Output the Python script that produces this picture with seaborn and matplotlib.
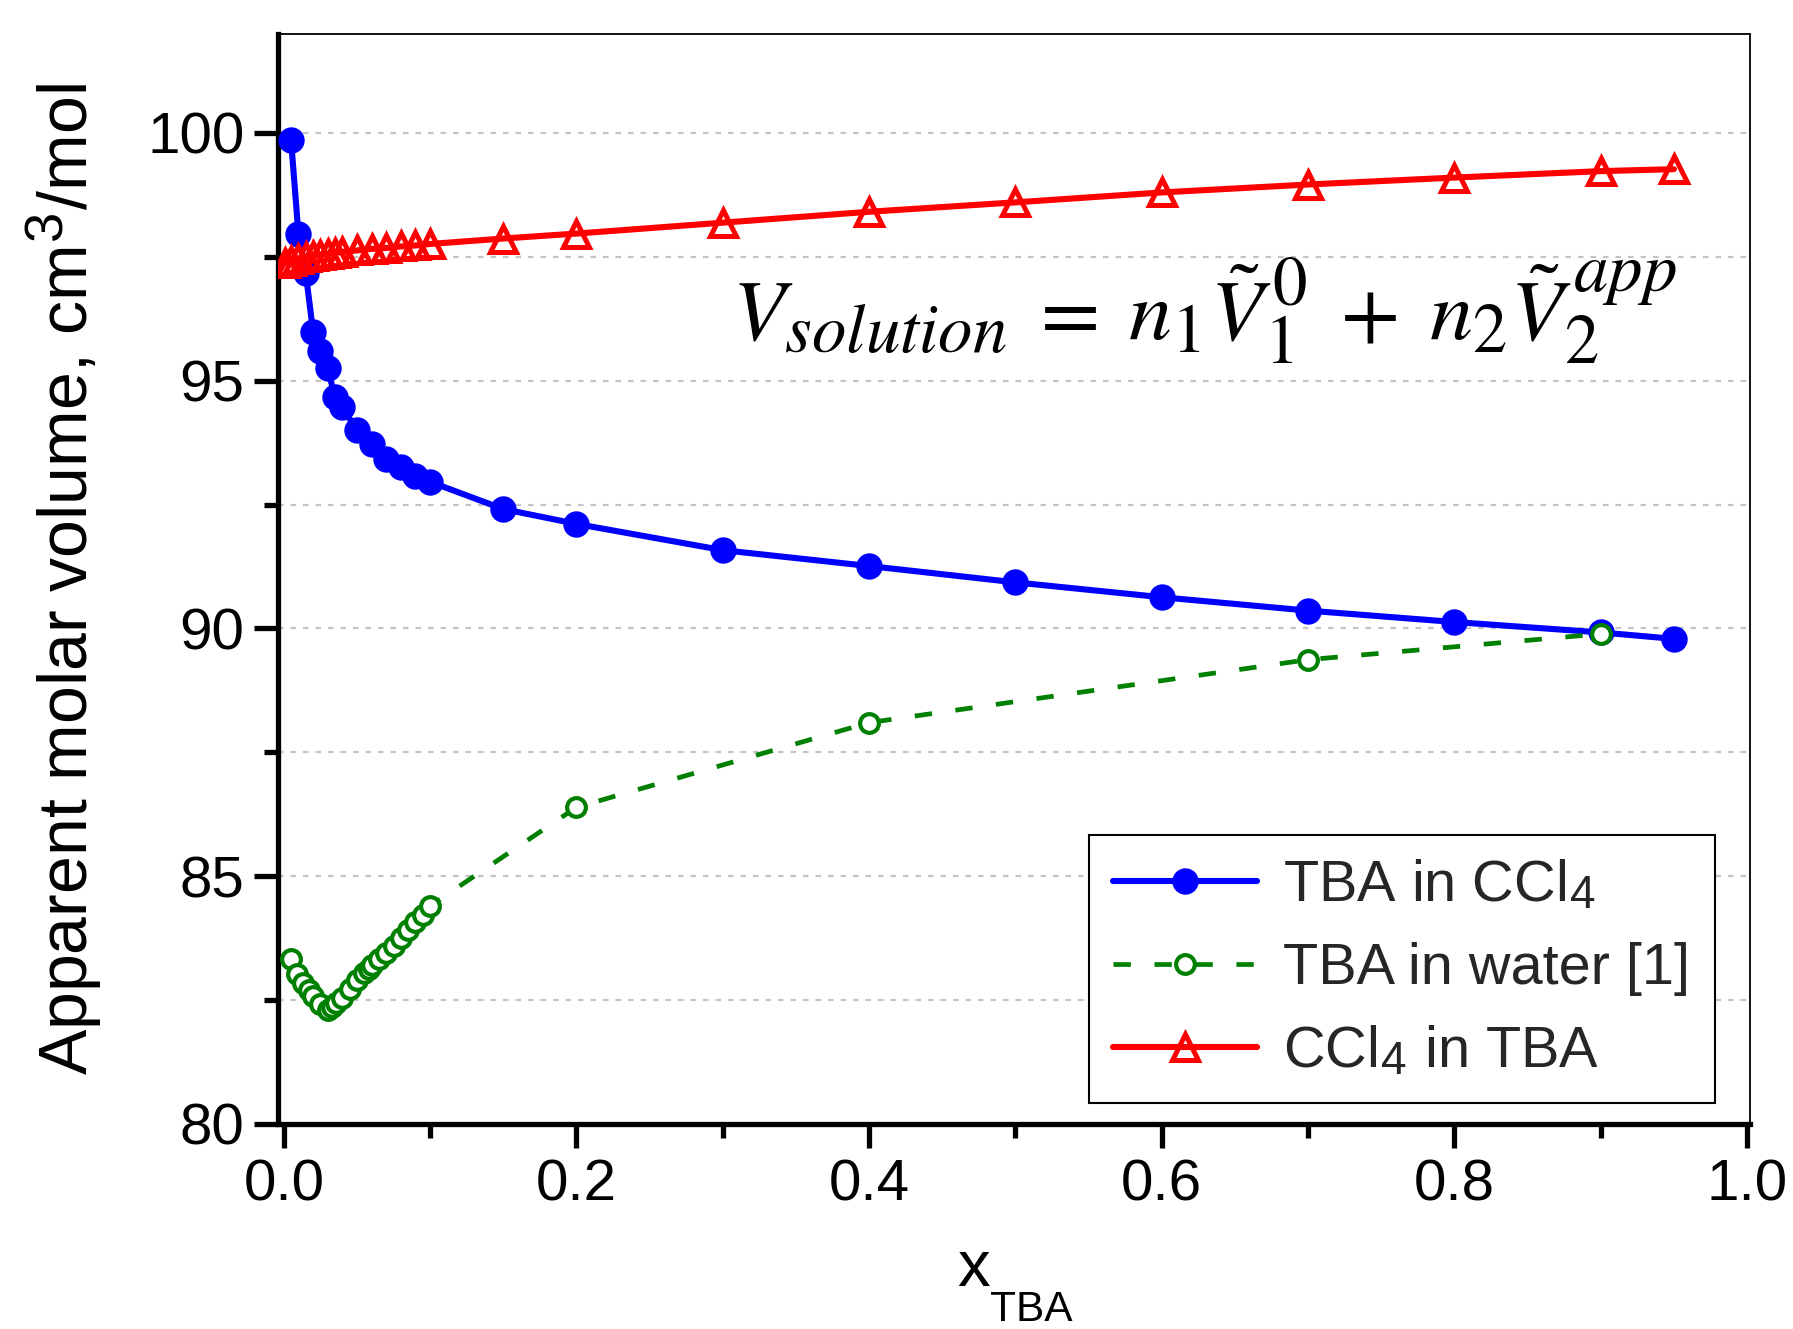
import matplotlib
matplotlib.use("Agg")
import matplotlib.pyplot as plt
import matplotlib._mathtext as _mt
import seaborn as sns
import pandas as pd
from matplotlib.ticker import MultipleLocator, FormatStrFormatter

# ---------------- data ----------------
x_tba_ccl4 = [0.005, 0.01, 0.015, 0.02, 0.025, 0.03, 0.035, 0.04, 0.05, 0.06, 0.07,
              0.08, 0.09, 0.1, 0.15, 0.2, 0.3, 0.4, 0.5, 0.6, 0.7, 0.8, 0.9, 0.95]
v_tba_ccl4 = [99.85, 97.97, 97.18, 95.99, 95.60, 95.25, 94.67, 94.47, 94.00, 93.73, 93.43,
              93.26, 93.07, 92.96, 92.41, 92.11, 91.58, 91.26, 90.93, 90.63, 90.36, 90.13, 89.92, 89.79]

x_tba_water = [0.005, 0.009, 0.013, 0.017, 0.02, 0.025, 0.03, 0.033, 0.036, 0.04, 0.045,
               0.05, 0.055, 0.058, 0.06, 0.065, 0.07, 0.075, 0.08, 0.085, 0.09, 0.095, 0.1,
               0.2, 0.4, 0.7, 0.9]
v_tba_water = [83.33, 83.02, 82.85, 82.70, 82.58, 82.42, 82.30, 82.36, 82.45, 82.55, 82.72,
               82.90, 83.04, 83.12, 83.20, 83.32, 83.46, 83.60, 83.75, 83.92, 84.08, 84.22, 84.40,
               86.39, 88.10, 89.37, 89.89]

x_ccl4_tba = [0.001, 0.005, 0.01, 0.015, 0.02, 0.025, 0.03, 0.035, 0.04, 0.05, 0.06, 0.07,
              0.08, 0.09, 0.1, 0.15, 0.2, 0.3, 0.4, 0.5, 0.6, 0.7, 0.8, 0.9, 0.95]
v_ccl4_tba = [97.38, 97.42, 97.46, 97.49, 97.52, 97.54, 97.56, 97.58, 97.60, 97.63, 97.66, 97.68,
              97.71, 97.73, 97.76, 97.87, 97.97, 98.19, 98.41, 98.60, 98.80, 98.96, 99.10, 99.23, 99.27]

labels = ["TBA in CCl$_\\mathregular{4}$", "TBA in water [1]", "CCl$_\\mathregular{4}$ in TBA"]
x_ticks = [0.0, 0.2, 0.4, 0.6, 0.8, 1.0]
y_ticks = [80, 85, 90, 95, 100]
x_label_main = "x"
x_label_sub = "TBA"
y_label = "Apparent molar volume, cm$^\\mathregular{3}$/mol"
equation = r"$V_{solution}\;=\;n_1\tilde{V}_1^{\,0}\;+\;n_2\tilde{V}_2^{\,app}$"

# ---------------- style ----------------
_mt.SHRINK_FACTOR = 0.8
sns.set_theme(style="white")
plt.rcParams["font.family"] = ["Liberation Sans", "DejaVu Sans"]
plt.rcParams["mathtext.fontset"] = "stix"
plt.rcParams["lines.scale_dashes"] = False

fig = plt.figure(figsize=(17.93, 13.29), dpi=100)
ax = fig.add_axes([0.1550, 0.1543, 0.8210, 0.8202])

df_blue = pd.DataFrame({"x": x_tba_ccl4, "v": v_tba_ccl4})
df_green = pd.DataFrame({"x": x_tba_water, "v": v_tba_water})
df_red = pd.DataFrame({"x": x_ccl4_tba, "v": v_ccl4_tba})

sns.lineplot(data=df_blue, x="x", y="v", ax=ax, color="#0000ff", linewidth=4.4,
             marker="o", markersize=19, markeredgewidth=0, sort=False, estimator=None,
             label=labels[0], zorder=3)
sns.lineplot(data=df_green, x="x", y="v", ax=ax, color="#008000", linewidth=3.4,
             marker="o", markersize=13.5, markeredgewidth=3.0, markerfacecolor="white",
             markeredgecolor="#008000", sort=False, estimator=None,
             label=labels[1], zorder=4)
sns.lineplot(data=df_red, x="x", y="v", ax=ax, color="#ff0000", linewidth=4.4,
             marker="^", markersize=18.5, markeredgewidth=3.6, markerfacecolor="none",
             markeredgecolor="#ff0000", sort=False, estimator=None,
             label=labels[2], zorder=5)
ax.lines[1].set_dashes([12.5, 17])

ax.set_xlim(-0.004, 1.002)
ax.set_ylim(80, 102)
ax.set_xticks(x_ticks)
ax.set_yticks(y_ticks)
ax.xaxis.set_major_formatter(FormatStrFormatter("%.1f"))
ax.xaxis.set_minor_locator(MultipleLocator(0.1))
ax.yaxis.set_minor_locator(MultipleLocator(2.5))

ax.grid(False)
ax.grid(axis="y", which="both", color="#c4c4c4", linestyle=(0, (4, 5)), linewidth=1.6, zorder=0)
ax.set_axisbelow(True)

for s in ["left", "bottom"]:
    ax.spines[s].set_linewidth(3.8)
    ax.spines[s].set_color("black")
for s in ["top", "right"]:
    ax.spines[s].set_linewidth(1.3)
    ax.spines[s].set_color("black")

ax.tick_params(which="major", direction="out", length=17, width=3.8, labelsize=42,
               color="black", labelcolor="black", top=False, right=False, left=True, bottom=True)
ax.tick_params(which="minor", direction="out", length=10, width=3.8, color="black",
               top=False, right=False, left=True, bottom=True)
ax.tick_params(axis="y", which="major", pad=7)
ax.tick_params(axis="x", which="major", pad=8)

# x axis label: "x" with a low subscript "TBA"
ax.set_xlabel("")
ax.text(0.4837, -0.149, x_label_main, transform=ax.transAxes, fontsize=47,
        ha="right", va="baseline", color="black")
ax.text(0.4837, -0.181, x_label_sub, transform=ax.transAxes, fontsize=30.5,
        ha="left", va="baseline", color="black")

ax.set_ylabel(y_label, fontsize=49, color="black")
ax.yaxis.set_label_coords(-0.118, 0.5)

ax.text(0.306, 95.82, equation, fontsize=62, ha="left", va="baseline", color="black")

leg = ax.legend(loc="lower right", bbox_to_anchor=(0.976, 0.019), borderaxespad=0,
                fontsize=41.5, handlelength=2.5, handletextpad=0.45, borderpad=0.42,
                labelspacing=0.5, frameon=True, fancybox=False, edgecolor="black",
                framealpha=1)
leg.get_frame().set_linewidth(1.5)

fig.savefig("out.png", dpi=100)
